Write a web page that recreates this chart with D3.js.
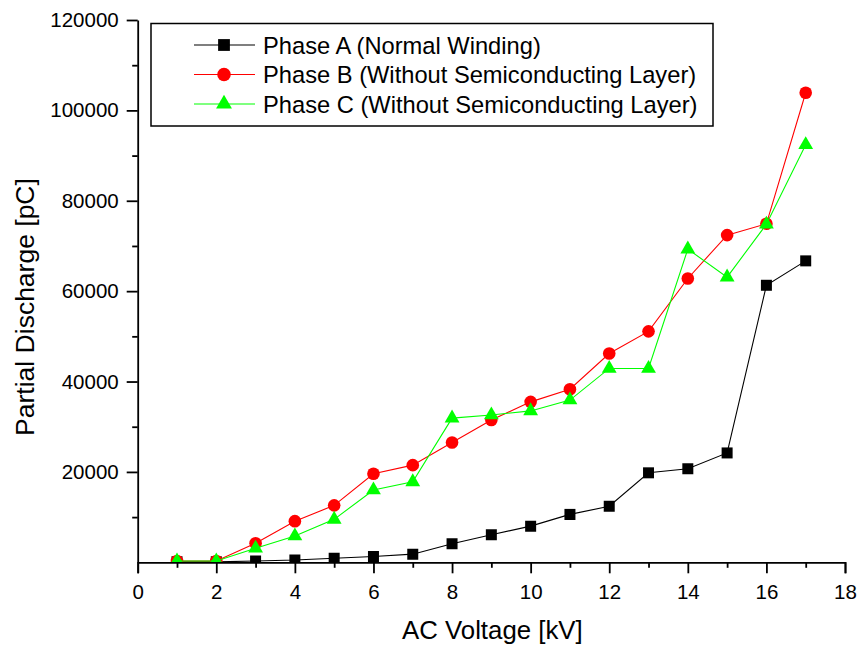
<!DOCTYPE html>
<html>
<head>
<meta charset="utf-8">
<script src="https://cdn.jsdelivr.net/npm/d3@7"></script>
<style>
  body { margin: 0; background: #fff; }
  text { font-family: "Liberation Sans", Arial, sans-serif; fill: #000; }
</style>
</head>
<body>
<script>
// data
const voltage = [1, 2, 3, 4, 5, 6, 7, 8, 9, 10, 11, 12, 13, 14, 15, 16, 17]
const phaseA = [100, 100, 300, 500, 900, 1300, 1800, 4100, 6100, 8000, 10600, 12400, 19800, 20700, 24200, 61300, 66700]
const phaseB = [300, 300, 4200, 9100, 12600, 19600, 21500, 26500, 31500, 35500, 38300, 46200, 51100, 62800, 72400, 74900, 103900]
const phaseC = [300, 300, 3100, 5800, 9500, 16000, 17800, 31900, 32600, 33500, 35900, 42900, 42900, 69300, 63100, 74800, 92400]
const seriesNames = ["Phase A (Normal Winding)", "Phase B (Without Semiconducting Layer)", "Phase C (Without Semiconducting Layer)"]
const xMajor = [0, 2, 4, 6, 8, 10, 12, 14, 16, 18]
const xMinor = [1, 3, 5, 7, 9, 11, 13, 15, 17]
const yMajor = [20000, 40000, 60000, 80000, 100000, 120000]
const yMinor = [10000, 30000, 50000, 70000, 90000, 110000]

width = 858
height = 650
margin = ({top: 20, right: 13, bottom: 87.7, left: 137.7})

x = d3.scaleLinear().domain([0, 18]).range([margin.left, width - margin.right])
y = d3.scaleLinear().domain([0, 120000]).range([height - margin.bottom, margin.top])

const series = [
  {name: seriesNames[0], values: phaseA, color: "#000000", shape: d3.symbolSquare, size: 121},
  {name: seriesNames[1], values: phaseB, color: "#ff0000", shape: d3.symbolCircle, size: 125},
  {name: seriesNames[2], values: phaseC, color: "#00ff00", shape: d3.symbolTriangle, size: 95}
]

const svg = d3.select("body").append("svg")
    .attr("width", width)
    .attr("height", height)

svg.append("clipPath").attr("id", "plot")
  .append("rect")
    .attr("x", x(0)).attr("y", y(120000) - 10)
    .attr("width", x(18) - x(0) + 10)
    .attr("height", y(0) - y(120000) + 10)

const line = d3.line().x((d, i) => x(voltage[i])).y(d => y(d))

const plot = svg.append("g").attr("clip-path", "url(#plot)")

series.forEach(s => {
  plot.append("path")
      .attr("d", line(s.values))
      .attr("fill", "none")
      .attr("stroke", s.color)
      .attr("stroke-width", 1.1)
  plot.append("g")
    .selectAll("path")
    .data(s.values)
    .join("path")
      .attr("transform", (d, i) => `translate(${x(voltage[i])},${y(d)})`)
      .attr("d", d3.symbol().type(s.shape).size(s.size))
      .attr("fill", s.color)
})

// axes
const xAxisMajor = g => g
  .attr("transform", `translate(0,${y(0)})`)
  .call(d3.axisBottom(x).tickValues(xMajor).tickSize(11).tickPadding(11).tickFormat(d3.format("d")))
const xAxisMinor = g => g
  .attr("transform", `translate(0,${y(0)})`)
  .call(d3.axisBottom(x).tickValues(xMinor).tickSize(5.5).tickFormat(""))
  .call(g => g.select(".domain").remove())
const yAxisMajor = g => g
  .attr("transform", `translate(${x(0)},0)`)
  .call(d3.axisLeft(y).tickValues(yMajor).tickSize(11).tickPadding(8).tickSizeOuter(0).tickFormat(d3.format("d")))
const yAxisMinor = g => g
  .attr("transform", `translate(${x(0)},0)`)
  .call(d3.axisLeft(y).tickValues(yMinor).tickSize(5.5).tickFormat(""))
  .call(g => g.select(".domain").remove())

;[xAxisMajor, xAxisMinor, yAxisMajor, yAxisMinor].forEach(a => {
  svg.append("g").call(a)
    .call(g => g.selectAll("line, .domain").attr("stroke", "#000").attr("stroke-width", 1.8))
    .call(g => g.selectAll("text").attr("font-size", 20.5).attr("font-family", null))
})

// axis titles
svg.append("text")
    .attr("x", (x(0) + x(18)) / 2 + 1)
    .attr("y", 639)
    .attr("text-anchor", "middle")
    .attr("font-size", 25.8)
    .text("AC Voltage [kV]")

svg.append("text")
    .attr("transform", `translate(34,${307}) rotate(-90)`)
    .attr("text-anchor", "middle")
    .attr("font-size", 26.5)
    .text("Partial Discharge [pC]")

// legend
const legend = svg.append("g")
legend.append("rect")
    .attr("x", 151).attr("y", 23.5)
    .attr("width", 562).attr("height", 102.5)
    .attr("fill", "#fff")
    .attr("stroke", "#000")
    .attr("stroke-width", 1.5)

const item = legend.selectAll("g")
  .data(series)
  .join("g")
    .attr("transform", (d, i) => `translate(0,${45 + i * 29.5})`)

item.append("line")
    .attr("x1", 194).attr("x2", 255)
    .attr("stroke", d => d.color)
    .attr("stroke-width", 1.1)
item.append("path")
    .attr("transform", "translate(224,0)")
    .attr("d", d => d3.symbol().type(d.shape).size(d.size * 1.15)())
    .attr("fill", d => d.color)
item.append("text")
    .attr("x", 263)
    .attr("dy", "0.36em")
    .attr("font-size", 23.7)
    .text(d => d.name)
</script>
</body>
</html>
